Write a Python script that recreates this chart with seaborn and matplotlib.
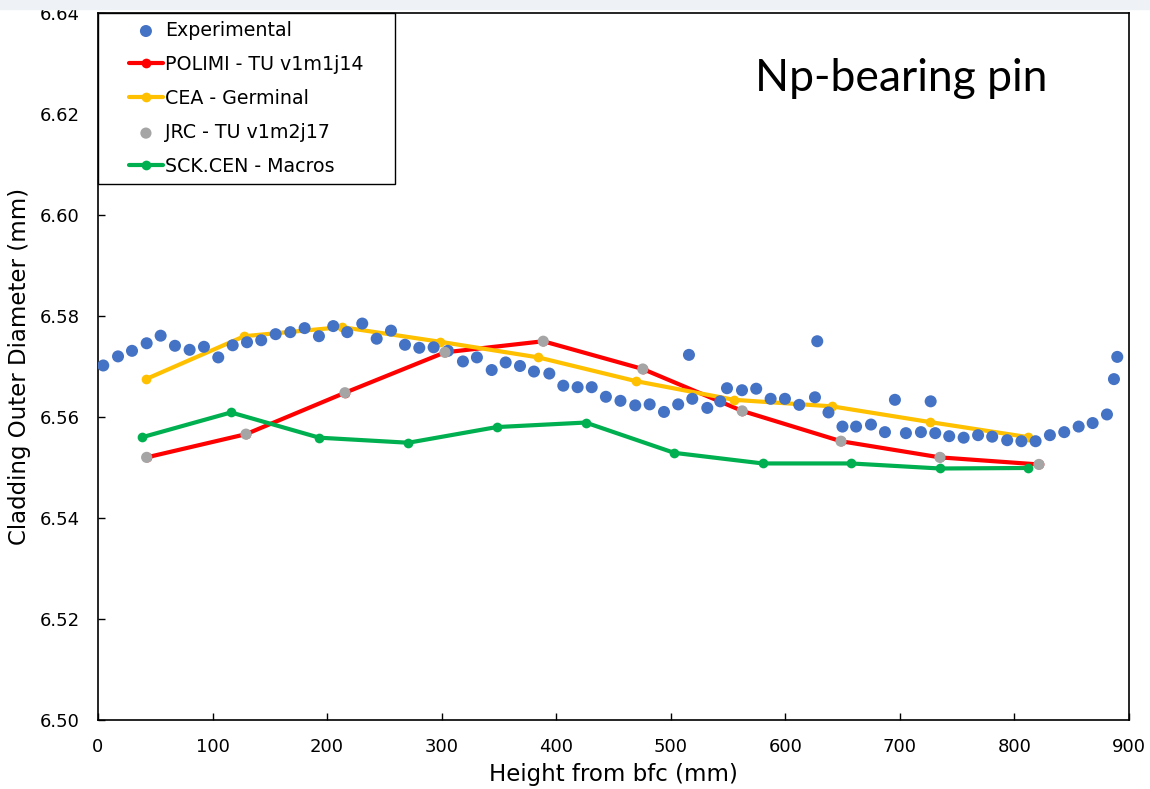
"""
Cladding outer diameter profile, Np-bearing pin: experiment vs code predictions.
"""

import numpy as np
import pandas as pd
import matplotlib
matplotlib.use("Agg")
import matplotlib.pyplot as plt
import seaborn as sns
from matplotlib.lines import Line2D
from matplotlib.collections import PathCollection
from matplotlib.legend_handler import HandlerLine2D, HandlerPathCollection
from matplotlib.patches import Rectangle

# Experimental profilometry (height in mm, diameter in mm)
exp_height = [4.6, 17.5, 29.7, 42.5, 54.7, 67.2, 80.0, 92.5, 105.0, 117.6,
              130.1, 142.5, 155.1, 167.9, 180.4, 192.9, 205.4, 217.6, 230.7, 243.3,
              255.8, 268.0, 280.5, 293.0, 305.5, 318.6, 330.8, 343.7, 355.9, 368.4,
              380.6, 394.0, 406.2, 418.7, 431.0, 443.4, 456.1, 469.0, 481.6, 494.1,
              506.5, 515.9, 518.8, 531.9, 543.2, 549.1, 562.2, 574.6, 587.2, 599.7,
              612.2, 625.9, 627.9, 637.7, 649.9, 661.8, 674.8, 687.0, 695.7, 705.3,
              718.4, 726.9, 730.9, 743.1, 755.7, 768.3, 780.6, 793.7, 806.1, 818.5,
              831.0, 843.5, 856.1, 868.3, 880.8, 886.9, 889.8]
exp_diam = [6.5702, 6.5720, 6.5731, 6.5746, 6.5761, 6.5741, 6.5733, 6.5739, 6.5718, 6.5742,
            6.5748, 6.5752, 6.5764, 6.5768, 6.5776, 6.5760, 6.5780, 6.5768, 6.5785, 6.5755,
            6.5771, 6.5743, 6.5737, 6.5738, 6.5731, 6.5710, 6.5718, 6.5693, 6.5708, 6.5701,
            6.5690, 6.5686, 6.5662, 6.5659, 6.5659, 6.5640, 6.5632, 6.5623, 6.5625, 6.5610,
            6.5625, 6.5723, 6.5636, 6.5618, 6.5631, 6.5657, 6.5653, 6.5656, 6.5636, 6.5636,
            6.5624, 6.5639, 6.5750, 6.5609, 6.5581, 6.5581, 6.5585, 6.5570, 6.5634, 6.5568,
            6.5570, 6.5631, 6.5568, 6.5562, 6.5559, 6.5564, 6.5561, 6.5554, 6.5552, 6.5552,
            6.5564, 6.5570, 6.5581, 6.5588, 6.5605, 6.5675, 6.5719]

# POLIMI - TU v1m1j14
polimi_height = [42.5, 129.2, 215.6, 302.9, 388.7, 475.6, 562.4, 648.6, 735.0, 821.4]
polimi_diam = [6.5520, 6.5566, 6.5648, 6.5728, 6.5750, 6.5695, 6.5612, 6.5552, 6.5520, 6.5506]

# CEA - Germinal
cea_height = [41.9, 127.7, 212.7, 298.5, 384.3, 469.6, 555.2, 641.0, 726.0, 812.1]
cea_diam = [6.5675, 6.5760, 6.5778, 6.5749, 6.5718, 6.5671, 6.5634, 6.5621, 6.5590, 6.5560]

# JRC - TU v1m2j17
jrc_height = [42.5, 129.2, 215.6, 302.9, 388.7, 475.6, 562.4, 648.6, 735.0, 821.4]
jrc_diam = [6.5520, 6.5566, 6.5648, 6.5728, 6.5750, 6.5695, 6.5612, 6.5552, 6.5520, 6.5506]

# SCK.CEN - Macros
sck_height = [38.7, 116.1, 193.2, 270.9, 348.0, 425.7, 503.0, 580.2, 657.3, 735.0, 812.1]
sck_diam = [6.5560, 6.5609, 6.5559, 6.5549, 6.5580, 6.5589, 6.5529, 6.5508, 6.5508, 6.5498, 6.5499]

x_ticks = [0, 100, 200, 300, 400, 500, 600, 700, 800, 900]
y_ticks = [6.50, 6.52, 6.54, 6.56, 6.58, 6.60, 6.62, 6.64]

sns.set_style("white")
plt.rcParams['font.family'] = ['DejaVu Sans']
plt.rcParams['text.color'] = 'black'
plt.rcParams['axes.labelcolor'] = 'black'

fig = plt.figure(figsize=(11.5, 7.89), dpi=100)
fig.patches.append(Rectangle((0, 1 - 9 / 789), 1, 9 / 789, transform=fig.transFigure,
                             color="#eef1f5", zorder=0))
ax = fig.add_axes([0.0852, 0.0875, 0.8965, 0.896])

exp_df = pd.DataFrame({"h": exp_height, "d": exp_diam})
sns.scatterplot(data=exp_df, x="h", y="d", ax=ax, color="#4472C4", s=75,
                edgecolor="none", label="Experimental", zorder=4)

sns.lineplot(x=polimi_height, y=polimi_diam, ax=ax, sort=False, color="#FF0000",
             lw=3, marker="o", markersize=7, markeredgewidth=0,
             label="POLIMI - TU v1m1j14", zorder=3)
sns.lineplot(x=cea_height, y=cea_diam, ax=ax, sort=False, color="#FFC000",
             lw=3, marker="o", markersize=7, markeredgewidth=0,
             label="CEA - Germinal", zorder=3)
sns.scatterplot(x=jrc_height, y=jrc_diam, ax=ax, color="#A5A5A5", s=65,
                edgecolor="none", label="JRC - TU v1m2j17", zorder=5)
sns.lineplot(x=sck_height, y=sck_diam, ax=ax, sort=False, color="#00B050",
             lw=3, marker="o", markersize=7, markeredgewidth=0,
             label="SCK.CEN - Macros", zorder=3)

ax.set_xlim(0, 900)
ax.set_ylim(6.50, 6.64)
ax.set_xticks(x_ticks)
ax.set_yticks(y_ticks)
ax.set_yticklabels([f"{v:.2f}" for v in y_ticks])
ax.tick_params(direction="in", length=5, width=1, labelsize=13, colors="black",
               left=True, bottom=True)
ax.tick_params(axis="y", pad=13)
ax.tick_params(axis="x", pad=13)

for side in ["left", "right", "top", "bottom"]:
    ax.spines[side].set_color("black")
    ax.spines[side].set_linewidth(1.2)

ax.set_xlabel("Height from bfc (mm)", fontsize=16.5, labelpad=5)
ax.set_ylabel("Cladding Outer Diameter (mm)", fontsize=16.5, labelpad=6)

ax.text(0.779, 0.907, "Np-bearing pin", transform=ax.transAxes, ha="center", va="center",
        fontsize=32, color="black", family=["Lato", "DejaVu Sans"])

leg_fs = 13.7
pad_em = 1.2
handlers = {Line2D: HandlerLine2D(xpad=pad_em),
            PathCollection: HandlerPathCollection(xpad=pad_em)}
leg = ax.legend(loc="upper left", bbox_to_anchor=(0, 1, 0.288, 0), mode="expand",
                borderaxespad=0, fontsize=leg_fs, frameon=True, fancybox=False,
                handlelength=3.0, handletextpad=0.1, labelspacing=0.79,
                borderpad=0.42, edgecolor="black", handler_map=handlers,
                scatterpoints=1)
leg.get_frame().set_linewidth(1.0)
leg.get_frame().set_alpha(1)

plt.savefig("out.png", dpi=100)
plt.close()
